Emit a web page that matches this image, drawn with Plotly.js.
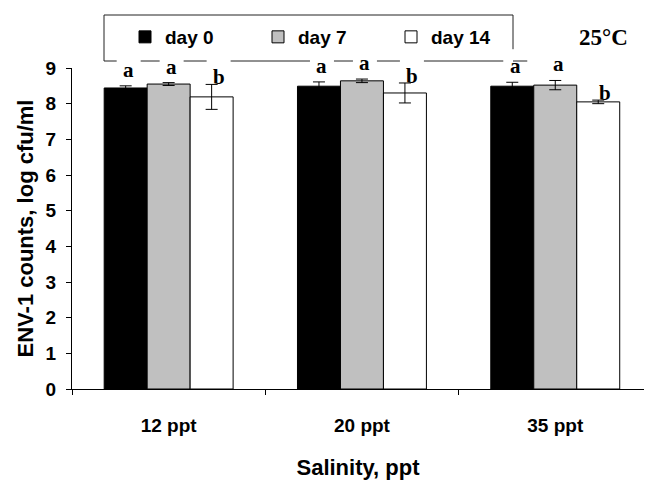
<!DOCTYPE html>
<html>
<head>
<meta charset="utf-8">
<script src="https://cdn.plot.ly/plotly-3.0.1.min.js"></script>
<style>html,body{margin:0;padding:0;background:#fff}</style>
</head>
<body>
<div id="chart" style="width:646px;height:482px"></div>
<script>
// ENV-1 counts at 25 °C for three salinities, sampled on day 0, 7 and 14
const salinity = ['12 ppt', '20 ppt', '35 ppt'];
const day0 = [8.44, 8.49, 8.49];
const day0Err = [0.06, 0.12, 0.11];
const day7 = [8.55, 8.64, 8.52];
const day7Err = [0.04, 0.05, 0.13];
const day14 = [8.19, 8.30, 8.05];
const day14Err = [0.35, 0.28, 0.05];
const day0Letters = ['a', 'a', 'a'];
const day7Letters = ['a', 'a', 'a'];
const day14Letters = ['b', 'b', 'b'];
const yTicks = [0, 1, 2, 3, 4, 5, 6, 7, 8, 9];

// layout geometry
const W = 646, H = 482;
const M = {l: 72, r: 2, t: 68, b: 93};
const plotW = W - M.l - M.r;
const plotH = H - M.t - M.b;
const catPx = 193.3;
const xRange = [-0.5, -0.5 + plotW / catPx];
const yRange = [0, 9];
const barGap = 0.333;
const slot = (1 - barGap) / 3;

const sans = '"Liberation Sans", Arial, Helvetica, sans-serif';
const serif = '"Liberation Serif", "Times New Roman", Times, serif';

const series = [
  {name: 'day 0', y: day0, err: day0Err, letters: day0Letters, color: '#000000', off: -1},
  {name: 'day 7', y: day7, err: day7Err, letters: day7Letters, color: '#c0c0c0', off: 0},
  {name: 'day 14', y: day14, err: day14Err, letters: day14Letters, color: '#ffffff', off: 1}
];

const traces = series.map(s => ({
  type: 'bar',
  name: s.name,
  x: salinity,
  y: s.y,
  marker: {color: s.color, line: {color: '#000000', width: 1}},
  error_y: {type: 'data', array: s.err, visible: true, color: '#000000', thickness: 1, width: 6},
  hoverinfo: 'skip'
}));

// significance letters above each bar (paper y so they may sit above the axis top)
const letterGap = {a: 0.45, b: 0.2};
const letterShift = {a: 3, b: 7};
const annotations = [];
const gaps = [];
series.forEach(s => {
  s.y.forEach((v, i) => {
    const L = s.letters[i];
    const xi = i + s.off * slot;
    const yv = v + s.err[i] + letterGap[L];
    const yp = (yv - yRange[0]) / (yRange[1] - yRange[0]);
    annotations.push({
      x: xi, y: yp, xref: 'x', yref: 'paper', text: L, showarrow: false,
      xanchor: 'center', yanchor: 'middle', xshift: letterShift[L],
      font: {family: serif, size: 21, color: '#000000', weight: 'bold'}
    });
    const px = M.l + (xi - xRange[0]) * catPx + letterShift[L];
    const py = M.t + plotH * (1 - yp);
    gaps.push({x0: px - 12, x1: px + 12, y0: py - 17, y1: py + 17});
  });
});

annotations.push({
  xref: 'paper', yref: 'paper', x: (603 - M.l) / plotW, y: (M.t + plotH - 37) / plotH,
  text: '25°C', showarrow: false, xanchor: 'center', yanchor: 'middle',
  font: {family: serif, size: 23, color: '#000000', weight: 'bold'}
});

// legend frame, broken where letters cross it
const frame = {l: 104, r: 513, t: 15, b: 61};
const px2paper = x => (x - M.l) / plotW;
const py2paper = y => (M.t + plotH - y) / plotH;
const shapes = [];
function seg(x0, y0, x1, y1) {
  shapes.push({type: 'line', xref: 'paper', yref: 'paper',
    x0: px2paper(x0), y0: py2paper(y0), x1: px2paper(x1), y1: py2paper(y1),
    line: {color: '#222222', width: 1}});
}
seg(frame.l, frame.t, frame.r, frame.t);
seg(frame.l, frame.t, frame.l, frame.b);
let rightEnd = frame.b;
gaps.forEach(g => { if (g.x0 <= frame.r && g.x1 >= frame.r && g.y0 < rightEnd) rightEnd = g.y0; });
seg(frame.r, frame.t, frame.r, rightEnd);
const cuts = gaps.filter(g => g.y0 < frame.b && g.y1 > frame.b).sort((a, b) => a.x0 - b.x0);
let cur = frame.l;
cuts.forEach(g => {
  if (g.x0 > cur) seg(cur, frame.b, Math.min(g.x0, frame.r), frame.b);
  cur = Math.max(cur, g.x1);
});
if (cur < frame.r && rightEnd >= frame.b) seg(cur, frame.b, frame.r, frame.b);

const layout = {
  width: W, height: H,
  margin: M,
  paper_bgcolor: '#ffffff', plot_bgcolor: '#ffffff',
  barmode: 'group', bargap: barGap, bargroupgap: 0,
  showlegend: true,
  legend: {
    orientation: 'h', x: px2paper(125), xanchor: 'left', y: py2paper(37), yanchor: 'middle',
    font: {family: sans, size: 19, color: '#000000', weight: 'bold'},
    entrywidth: 88, itemwidth: 30, traceorder: 'normal',
    bgcolor: 'rgba(0,0,0,0)', borderwidth: 0
  },
  xaxis: {
    type: 'category', range: xRange, showgrid: false, zeroline: false,
    showline: true, linecolor: '#000000', linewidth: 1,
    ticks: 'outside', tickson: 'boundaries', ticklen: 5, tickcolor: '#000000',
    ticklabelstandoff: 19,
    tickfont: {family: sans, size: 19, color: '#000000', weight: 'bold'},
    title: {text: 'Salinity, ppt', standoff: 24, font: {family: sans, size: 22, color: '#000000', weight: 'bold'}}
  },
  yaxis: {
    range: yRange, tickvals: yTicks, showgrid: false, zeroline: false,
    showline: true, linecolor: '#000000', linewidth: 1,
    ticks: 'outside', ticklen: 5, tickcolor: '#000000',
    ticklabelstandoff: 6,
    tickfont: {family: sans, size: 19, color: '#000000', weight: 'bold'},
    title: {text: 'ENV-1 counts, log cfu/ml', standoff: 5, font: {family: sans, size: 22, color: '#000000', weight: 'bold'}}
  },
  annotations: annotations,
  shapes: shapes
};

Plotly.newPlot('chart', traces, layout, {staticPlot: true, displayModeBar: false});
</script>
</body>
</html>
